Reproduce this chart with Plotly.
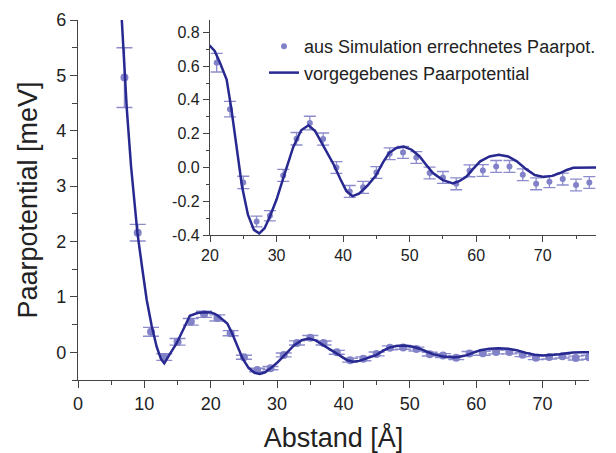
import plotly.graph_objects as go

# ---- data ----
sim_x = [7, 9, 11, 13, 15, 17, 19, 21, 23, 25, 27, 29, 31, 33, 35, 37, 39, 41, 43, 45,
         47, 49, 51, 53, 55, 57, 59, 61, 63, 65, 67, 69, 71, 73, 75, 77]
sim_y = [4.96, 2.16, 0.37, -0.085, 0.19, 0.55, 0.685, 0.62, 0.345, -0.089, -0.32, -0.286,
         -0.047, 0.17, 0.263, 0.168, 0.0, -0.142, -0.118, -0.03, 0.081, 0.089, 0.059,
         -0.033, -0.059, -0.097, -0.02, -0.018, 0.006, 0.006, -0.043, -0.097, -0.085,
         -0.069, -0.104, -0.089]
sim_err = [0.54, 0.15, 0.08, 0.06, 0.06, 0.06, 0.055, 0.055, 0.046, 0.037, 0.032, 0.03,
           0.035, 0.037, 0.04, 0.036, 0.035, 0.035, 0.035, 0.035, 0.035, 0.035, 0.035,
           0.035, 0.035, 0.035, 0.035, 0.035, 0.035, 0.035, 0.035, 0.035, 0.035, 0.035,
           0.035, 0.035]

pot_x = [6.6, 7.35, 8.0, 8.95, 9.7, 10.35, 11.1, 11.85, 12.5, 13.0, 13.9, 14.85, 15.9,
         16.85, 18.0, 19.0, 20.0, 20.7, 21.5, 22.5, 23.2, 23.8, 24.8, 25.7, 26.6, 27.4,
         28.2, 29.0, 30.0, 31.2, 32.5, 33.7, 34.8, 35.8, 36.8, 37.7, 38.6, 39.6, 40.5,
         41.4, 42.4, 43.6, 44.9, 46.0, 46.9, 48.0, 49.1, 50.3, 51.5, 52.5, 53.5, 55.0,
         56.5, 57.5, 58.5, 59.5, 60.6, 62.0, 63.4, 64.8, 66.1, 67.5, 68.8, 70.1, 71.4,
         72.6, 73.6, 74.6, 76.0, 78.0]
pot_y = [6.0, 4.4, 3.35, 2.16, 1.5, 0.95, 0.48, 0.10, -0.12, -0.20, -0.02, 0.16, 0.42,
         0.66, 0.71, 0.725, 0.72, 0.69, 0.62, 0.52, 0.35, 0.18, -0.11, -0.28, -0.37, -0.39,
         -0.36, -0.29, -0.19, -0.04, 0.12, 0.22, 0.25, 0.215, 0.144, 0.075, 0.016, -0.07,
         -0.14, -0.17, -0.155, -0.11, -0.05, 0.03, 0.085, 0.115, 0.124, 0.105, 0.065,
         0.015, -0.033, -0.075, -0.095, -0.08, -0.055, -0.01, 0.036, 0.065, 0.075, 0.065,
         0.036, -0.01, -0.045, -0.057, -0.05, -0.033, -0.015, -0.002, 0.0, 0.0]

main_xticks = [0, 10, 20, 30, 40, 50, 60, 70]
main_yticks = [0, 1, 2, 3, 4, 5, 6]
inset_xticks = [20, 30, 40, 50, 60, 70]
inset_yticks = [-0.4, -0.2, 0.0, 0.2, 0.4, 0.6, 0.8]
inset_yticktext = ["-0.4", "-0.2", "0.0", "0.2", "0.4", "0.6", "0.8"]

name_sim = "aus Simulation errechnetes Paarpot."
name_pot = "vorgegebenes Paarpotential"

# ---- style ----
FONT = "Liberation Sans, Arial, sans-serif"
LINE_C = "rgb(40,40,145)"
MARK_C = "rgb(130,130,200)"
ERR_C = "rgb(140,140,205)"
AX_C = "#444444"

fig = go.Figure()

fig.add_trace(go.Scatter(
    x=sim_x, y=sim_y, mode="markers", name=name_sim, showlegend=False,
    marker=dict(color=MARK_C, size=8),
    error_y=dict(type="data", array=sim_err, color=ERR_C, thickness=1.4, width=8),
    xaxis="x", yaxis="y"))
fig.add_trace(go.Scatter(
    x=pot_x, y=pot_y, mode="lines", name=name_pot, showlegend=False,
    line=dict(color=LINE_C, width=2.5), xaxis="x", yaxis="y"))

fig.add_trace(go.Scatter(
    x=sim_x, y=sim_y, mode="markers", name=name_sim,
    marker=dict(color=MARK_C, size=6),
    error_y=dict(type="data", array=sim_err, color=ERR_C, thickness=1.3, width=6),
    xaxis="x2", yaxis="y2"))
fig.add_trace(go.Scatter(
    x=pot_x, y=pot_y, mode="lines", name=name_pot,
    line=dict(color=LINE_C, width=2.5), xaxis="x2", yaxis="y2"))

common = dict(showline=True, linecolor=AX_C, linewidth=1.3, showgrid=False,
              zeroline=False, ticks="outside", tickcolor=AX_C, tickwidth=1.3,
              mirror=False, automargin=False)

fig.update_layout(
    width=616, height=453,
    margin=dict(l=78, r=20, t=20, b=73),
    paper_bgcolor="white", plot_bgcolor="rgba(0,0,0,0)",
    font=dict(family=FONT, color="#222222"),
    xaxis=dict(domain=[0, 511 / 518], range=[0, 77], tickvals=main_xticks, ticklen=7,
               minor=dict(dtick=5, ticklen=4, ticks="outside", tickcolor=AX_C),
               tickfont=dict(size=18), anchor="y",
               title=dict(text="Abstand [Å]", font=dict(size=27), standoff=16), **common),
    yaxis=dict(domain=[0, 1], range=[-0.5, 6], tickvals=main_yticks, ticklen=7,
               minor=dict(dtick=0.5, ticklen=5, ticks="outside", tickcolor=AX_C),
               tickfont=dict(size=18), anchor="x",
               title=dict(text="Paarpotential [meV]", font=dict(size=27), standoff=10),
               **common),
    xaxis2=dict(domain=[(210 - 78) / 518, 1], range=[20, 78], tickvals=inset_xticks,
                ticklen=6, minor=dict(dtick=5, ticklen=3, ticks="outside", tickcolor=AX_C),
                tickfont=dict(size=16), anchor="y2", **common),
    yaxis2=dict(domain=[(380 - 235) / 360, 1], range=[-0.4, 0.873], tickvals=inset_yticks,
                ticktext=inset_yticktext, ticklen=6,
                minor=dict(dtick=0.1, ticklen=3, ticks="outside", tickcolor=AX_C),
                tickfont=dict(size=16), anchor="x2", **common),
    legend=dict(x=(264 - 78) / 518, y=(380 - 28) / 360, xanchor="left", yanchor="top",
                bgcolor="rgba(0,0,0,0)", font=dict(size=18, family=FONT, color="#222222"),
                tracegroupgap=0),
)

fig.write_html("out.html")
